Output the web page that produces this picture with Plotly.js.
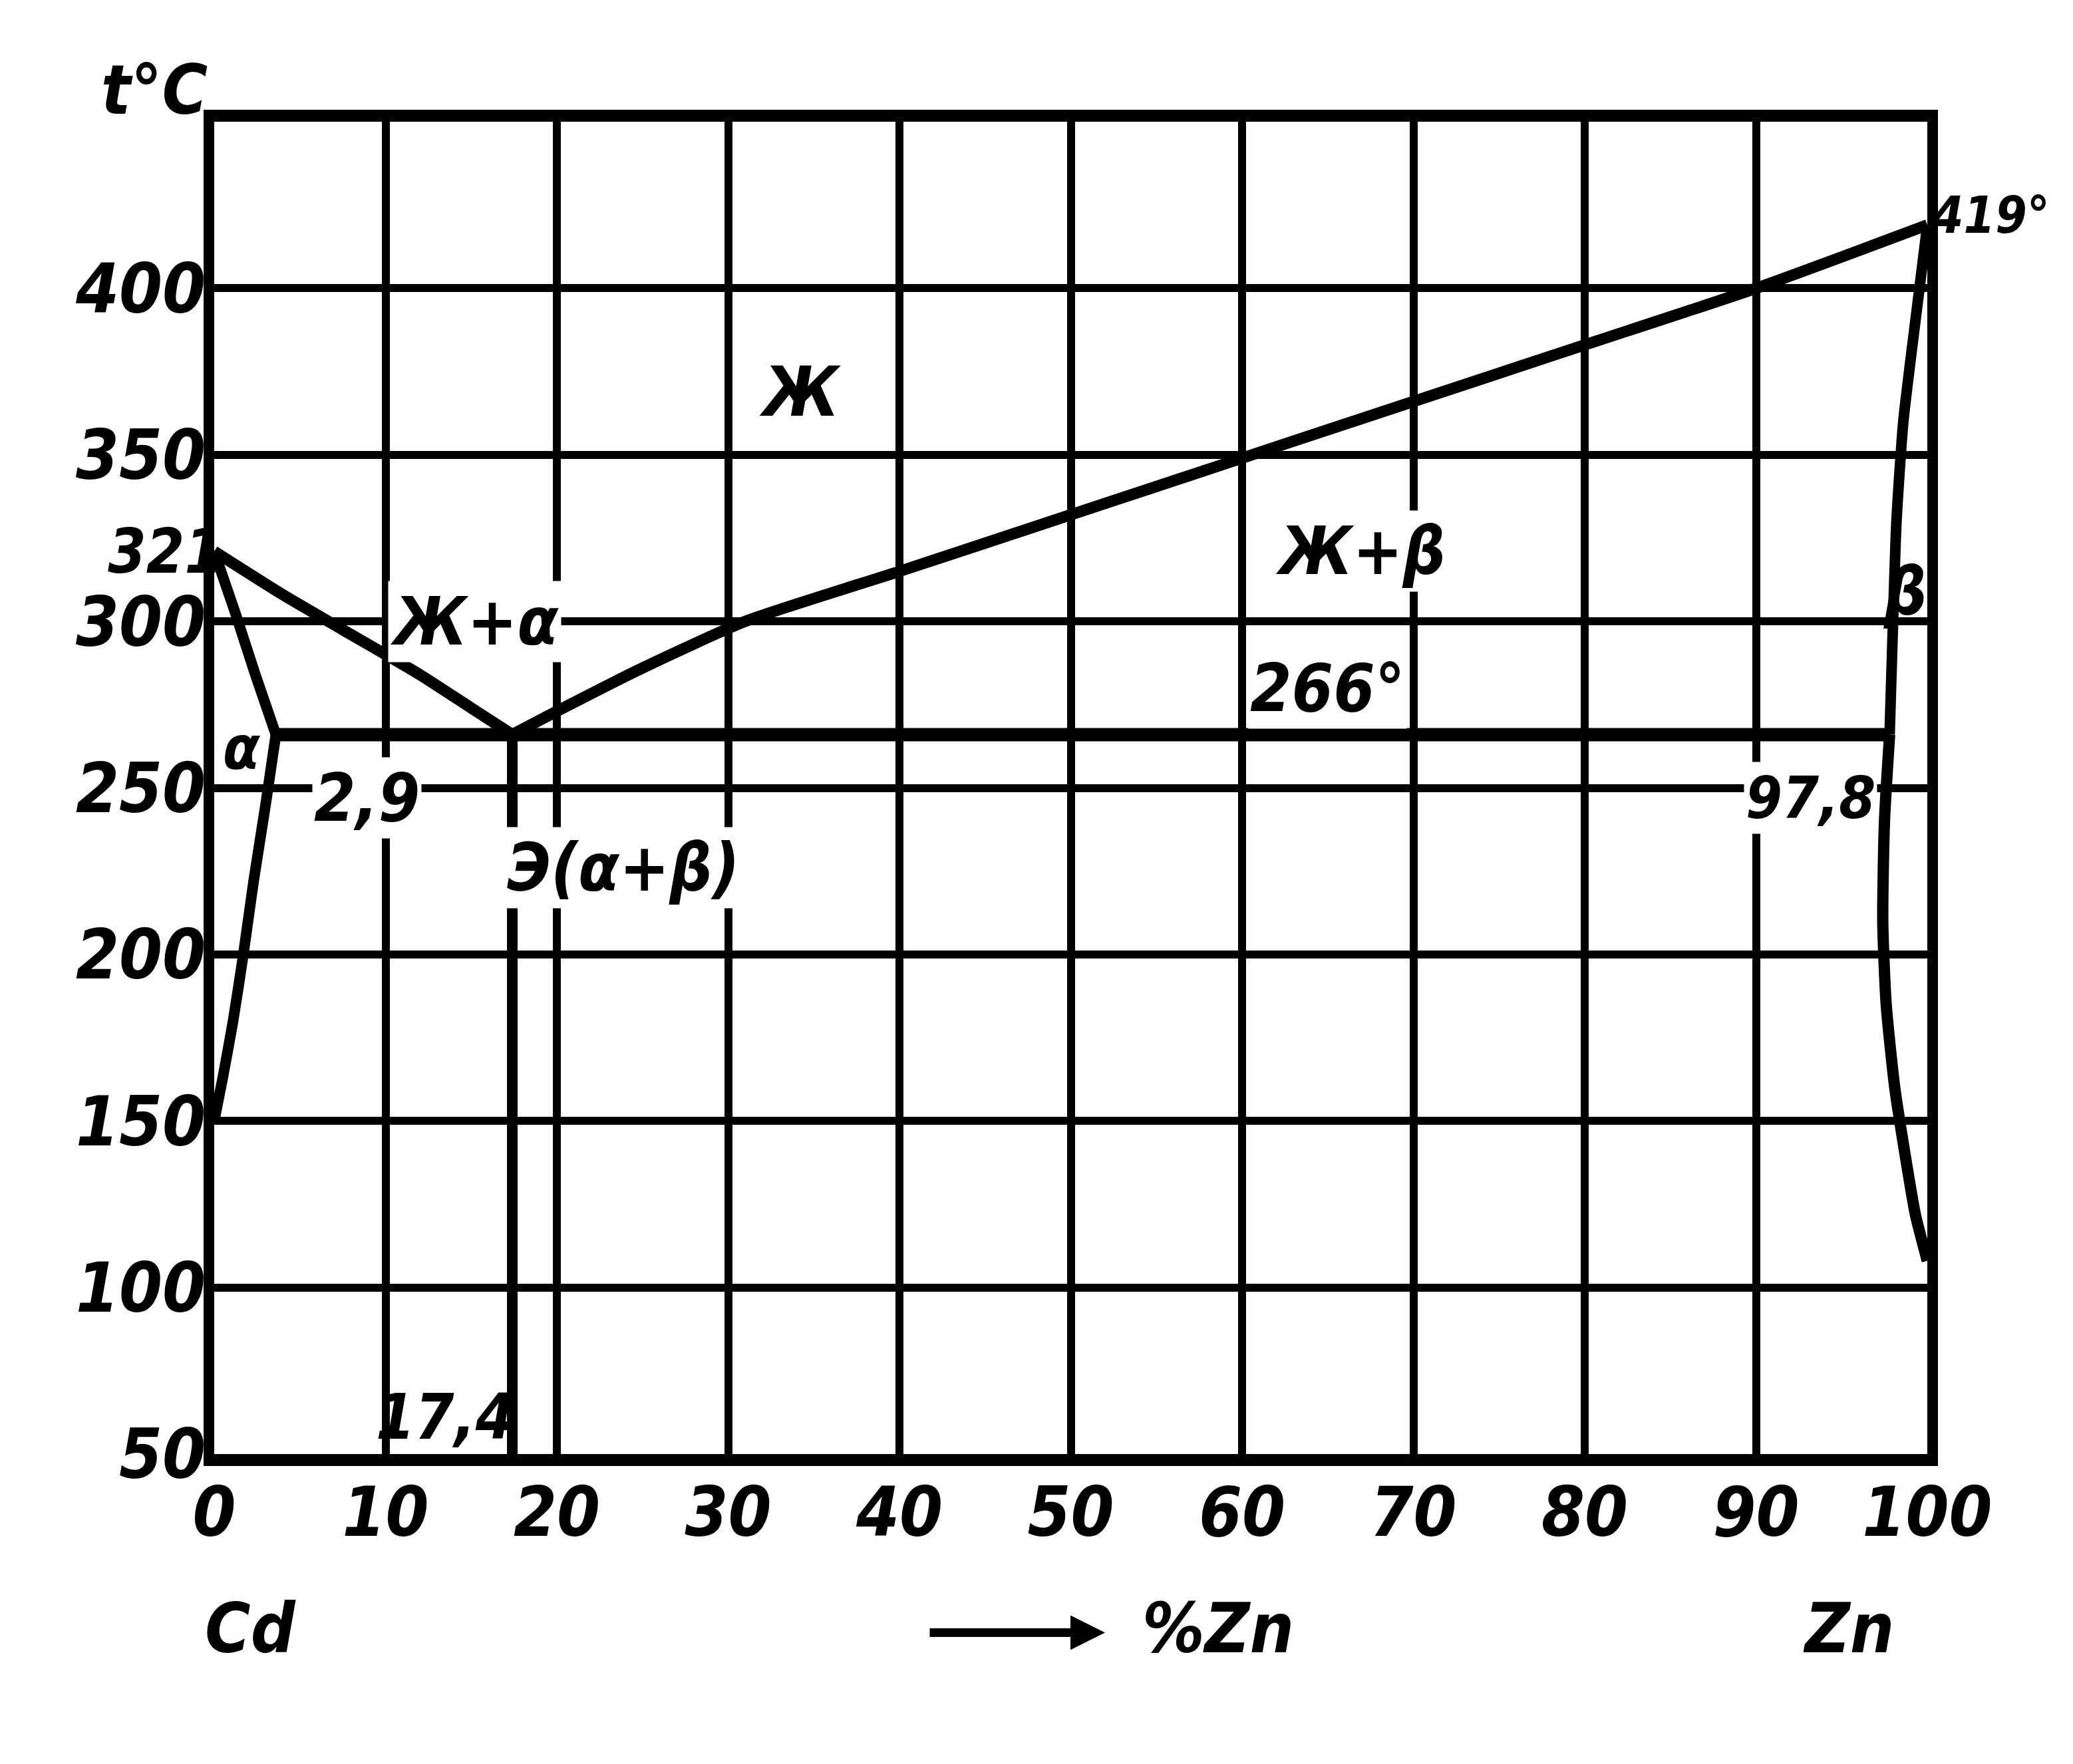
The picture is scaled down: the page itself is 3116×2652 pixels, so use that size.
<!DOCTYPE html>
<html>
<head>
<meta charset="utf-8">
<script src="https://cdn.plot.ly/plotly-3.0.1.min.js"></script>
<style>html,body{margin:0;padding:0;background:#fff;}</style>
</head>
<body>
<div id="chart" style="width:3116px;height:2652px;"></div>
<script>
// ---- data ----
const xTicks = [0, 10, 20, 30, 40, 50, 60, 70, 80, 90, 100];
const yTicks = [50, 100, 150, 200, 250, 300, 350, 400];
const extraYTick = [321];

// liquidus, Cd side (321° -> eutectic 266° at 17.4 % Zn)
const liqCdX = [0, 4, 8, 12, 15, 17.4];
const liqCdT = [321, 308, 296, 284, 274, 266];
// liquidus, Zn side (eutectic -> 419°)
const liqZnX = [17.4, 20, 25, 31, 40, 50, 60, 70, 80, 90, 100];
const liqZnT = [266, 273, 286, 300, 315, 332, 349, 366, 383, 400, 419];
// alpha solidus and solvus (as drawn)
const solAX = [0, 1.2, 2.4, 3.6];
const solAT = [321, 303, 284, 266];
const solvAX = [3.6, 3.0, 2.3, 1.7, 1.1, 0.5, 0];
const solvAT = [266, 245, 222, 200, 180, 163, 150];
// beta solidus and solvus
const solBX = [100, 99.3, 98.6, 98.2, 98.0, 97.8];
const solBT = [419, 390, 360, 330, 300, 266];
const solvBX = [97.8, 97.5, 97.4, 97.6, 98.1, 98.7, 99.3, 100];
const solvBT = [266, 240, 210, 185, 160, 140, 122, 108];
// eutectic horizontal and eutectic composition vertical
const eutX = [3.6, 97.8];
const eutT = [266, 266];
const eutVX = [17.4, 17.4];
const eutVT = [266, 50];

// region / point labels
const labels = [
  {text: 'Ж', x: 34.2, y: 369, size: 104},
  {text: 'Ж+α', x: 15.2, y: 300, size: 100},
  {text: 'Ж+β', x: 66.9, y: 321, size: 100},
  {text: '266°', x: 65.0, y: 280, size: 100},
  {text: '2,9', x: 8.9, y: 247, size: 100},
  {text: 'Э(α+β)', x: 23.9, y: 226, size: 100},
  {text: '97,8', x: 93.2, y: 247, size: 88},
  {text: '17,4', x: 13.5, y: 61, size: 94, nobg: true},
  {text: 'β', x: 98.7, y: 309, size: 100, nobg: true},
  {text: 'α', x: 1.6, y: 262, size: 90, nobg: true}
];

const FAM = 'DejaVu Sans Condensed, DejaVu Sans, Liberation Sans';
function font(size) {
  return {family: FAM, size: size, color: '#000', weight: 'bold', style: 'italic'};
}
const F = font(104);

function line(x, y, w) {
  return {x: x, y: y, type: 'scatter', mode: 'lines', line: {color: '#000', width: w, shape: 'spline', smoothing: 0.6}, hoverinfo: 'skip', showlegend: false};
}

const traces = [
  line(liqCdX, liqCdT, 17),
  line(liqZnX, liqZnT, 17),
  line(solAX, solAT, 16),
  line(solvAX, solvAT, 16),
  line(solBX, solBT, 16),
  line(solvBX, solvBT, 17),
  line(eutX, eutT, 20),
  line(eutVX, eutVT, 16),
  // helper trace to activate the second y axis (321 tick)
  {x: [0], y: [321], yaxis: 'y2', type: 'scatter', mode: 'markers', marker: {opacity: 0}, hoverinfo: 'skip', showlegend: false}
];

const annotations = labels.map(l => ({
  text: l.text, x: l.x, y: l.y, xref: 'x', yref: 'y', showarrow: false,
  xanchor: 'center', yanchor: 'middle',
  font: font(l.size), bgcolor: l.nobg ? 'rgba(0,0,0,0)' : '#fff', borderpad: 2
}));

function paperText(text, x, y, xref, size) {
  return {text: text, xref: xref || 'paper', yref: 'paper', x: x, y: y,
          xanchor: 'center', yanchor: 'middle', showarrow: false, font: font(size || 104)};
}

annotations.push(
  paperText('t°C', -0.035, 1.024),
  paperText('419°', 1.037, 0.93, 'paper', 76),
  paperText('Cd', 2.1, -0.131, 'x'),
  paperText('Zn', 95.4, -0.131, 'x'),
  paperText('%Zn', 58.6, -0.131, 'x'),
  {text: '', xref: 'x', yref: 'paper', x: 52.0, y: -0.134, ax: -265, ay: 0,
   showarrow: true, arrowhead: 2, arrowsize: 0.8, arrowwidth: 13, arrowcolor: '#000'}
);

const layout = {
  width: 3116, height: 2652,
  margin: {l: 322, r: 219, t: 183, b: 466},
  paper_bgcolor: '#fff', plot_bgcolor: '#fff',
  showlegend: false,
  xaxis: {
    range: [0, 100], tickvals: xTicks, ticktext: xTicks.map(String),
    showgrid: true, gridcolor: '#000', gridwidth: 12, zeroline: false,
    showline: true, mirror: true, linecolor: '#000', linewidth: 18,
    ticks: '', tickfont: F, ticklabelstandoff: -20
  },
  yaxis: {
    range: [50, 450], tickvals: yTicks, ticktext: yTicks.map(String),
    showgrid: true, gridcolor: '#000', gridwidth: 12, zeroline: false,
    showline: true, mirror: true, linecolor: '#000', linewidth: 16,
    ticks: '', tickfont: F, ticklabelstandoff: -24
  },
  yaxis2: {
    range: [50, 450], overlaying: 'y', side: 'left', tickvals: extraYTick,
    ticktext: extraYTick.map(String), showgrid: false, zeroline: false,
    showline: false, ticks: '', tickfont: font(92), ticklabelstandoff: -14
  },
  annotations: annotations
};

Plotly.newPlot('chart', traces, layout, {staticPlot: true});
</script>
</body>
</html>
